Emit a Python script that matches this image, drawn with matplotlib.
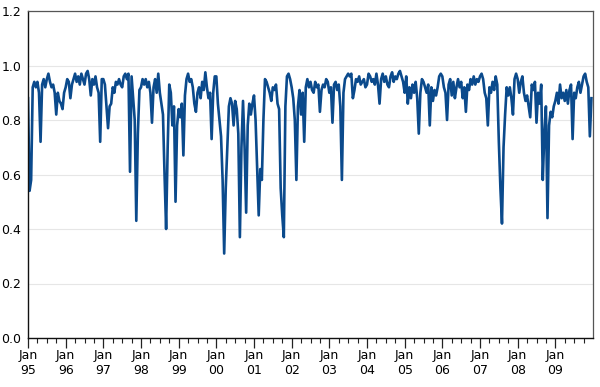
import numpy as np
import matplotlib
matplotlib.use("Agg")
import matplotlib.pyplot as plt
from matplotlib.ticker import FixedLocator, FormatStrFormatter

plt.rcParams['font.family'] = ['Liberation Sans Narrow', 'DejaVu Sans']

# Semi-monthly observations (24 per year), Jan 1995 - Dec 2009
v1995 = [0.88, 0.54, 0.58, 0.92, 0.94, 0.92, 0.94, 0.90, 0.72, 0.93, 0.95, 0.92,
         0.95, 0.97, 0.94, 0.92, 0.93, 0.90, 0.82, 0.90, 0.87, 0.86, 0.84, 0.90]
v1996 = [0.92, 0.95, 0.94, 0.88, 0.93, 0.95, 0.97, 0.94, 0.96, 0.93, 0.97, 0.95,
         0.93, 0.97, 0.98, 0.95, 0.89, 0.95, 0.93, 0.96, 0.92, 0.90, 0.72, 0.95]
v1997 = [0.95, 0.93, 0.85, 0.77, 0.85, 0.86, 0.92, 0.90, 0.94, 0.93, 0.95, 0.93,
         0.92, 0.96, 0.97, 0.95, 0.97, 0.61, 0.96, 0.88, 0.80, 0.43, 0.75, 0.91]
v1998 = [0.92, 0.95, 0.93, 0.95, 0.92, 0.94, 0.90, 0.79, 0.92, 0.95, 0.90, 0.97,
         0.90, 0.86, 0.82, 0.60, 0.40, 0.70, 0.93, 0.90, 0.78, 0.85, 0.50, 0.78]
v1999 = [0.84, 0.81, 0.86, 0.67, 0.89, 0.95, 0.97, 0.94, 0.95, 0.92, 0.86, 0.83,
         0.90, 0.92, 0.88, 0.94, 0.91, 0.975, 0.92, 0.88, 0.90, 0.73, 0.90, 0.96]
v2000 = [0.96, 0.86, 0.80, 0.74, 0.58, 0.31, 0.55, 0.70, 0.85, 0.88, 0.86, 0.78,
         0.87, 0.84, 0.75, 0.37, 0.70, 0.87, 0.70, 0.46, 0.78, 0.86, 0.82, 0.86]
v2001 = [0.89, 0.80, 0.62, 0.45, 0.62, 0.58, 0.80, 0.95, 0.94, 0.92, 0.90, 0.87,
         0.92, 0.91, 0.93, 0.86, 0.84, 0.55, 0.45, 0.37, 0.85, 0.96, 0.97, 0.95]
v2002 = [0.92, 0.88, 0.80, 0.58, 0.85, 0.91, 0.82, 0.90, 0.72, 0.92, 0.95, 0.92,
         0.94, 0.91, 0.90, 0.94, 0.92, 0.93, 0.83, 0.91, 0.93, 0.92, 0.95, 0.94]
v2003 = [0.90, 0.92, 0.79, 0.93, 0.94, 0.91, 0.93, 0.85, 0.58, 0.90, 0.95, 0.96,
         0.97, 0.96, 0.97, 0.88, 0.91, 0.95, 0.94, 0.96, 0.93, 0.94, 0.95, 0.92]
v2004 = [0.93, 0.97, 0.96, 0.94, 0.95, 0.93, 0.97, 0.93, 0.86, 0.95, 0.97, 0.94,
         0.96, 0.93, 0.92, 0.96, 0.975, 0.94, 0.96, 0.95, 0.97, 0.98, 0.96, 0.94]
v2005 = [0.90, 0.96, 0.86, 0.92, 0.88, 0.93, 0.90, 0.94, 0.88, 0.75, 0.90, 0.95,
         0.94, 0.92, 0.90, 0.93, 0.78, 0.92, 0.87, 0.91, 0.89, 0.92, 0.96, 0.97]
v2006 = [0.96, 0.92, 0.90, 0.80, 0.93, 0.95, 0.89, 0.94, 0.88, 0.92, 0.95, 0.92,
         0.94, 0.88, 0.92, 0.83, 0.93, 0.91, 0.95, 0.93, 0.96, 0.93, 0.95, 0.94]
v2007 = [0.96, 0.97, 0.95, 0.90, 0.88, 0.78, 0.92, 0.90, 0.94, 0.91, 0.96, 0.93,
         0.72, 0.55, 0.42, 0.70, 0.82, 0.92, 0.89, 0.92, 0.88, 0.82, 0.95, 0.97]
v2008 = [0.95, 0.90, 0.94, 0.96, 0.90, 0.87, 0.89, 0.85, 0.81, 0.93, 0.91, 0.94,
         0.79, 0.90, 0.86, 0.93, 0.58, 0.75, 0.85, 0.44, 0.78, 0.83, 0.81, 0.85]
v2009 = [0.87, 0.90, 0.86, 0.93, 0.88, 0.90, 0.87, 0.91, 0.86, 0.91, 0.93, 0.73,
         0.90, 0.88, 0.92, 0.94, 0.90, 0.93, 0.96, 0.97, 0.94, 0.92, 0.74, 0.88]

years = list(range(1995, 2010))
year_labels = ["Jan\n%02d" % (y % 100) for y in years]
y_ticks = [0.0, 0.2, 0.4, 0.6, 0.8, 1.0, 1.2]

series = [v1995, v1996, v1997, v1998, v1999, v2000, v2001, v2002,
          v2003, v2004, v2005, v2006, v2007, v2008, v2009]
values = np.concatenate([np.array(s, dtype=float) for s in series])
t = np.array([y + i / 24.0 for y, s in zip(years, series) for i in range(len(s))])

fig = plt.figure(figsize=(6.0, 3.87), dpi=100)
ax = fig.add_axes([28 / 600, 1 - 338 / 387, (593 - 28) / 600, (338 - 11) / 387])

ax.plot(t, values, color="#0b4a8c", lw=1.9, solid_joinstyle="round")

ax.set_xlim(1995, 2010)
ax.set_ylim(0, 1.2)
ax.yaxis.set_major_locator(FixedLocator(y_ticks))
ax.yaxis.set_major_formatter(FormatStrFormatter("%.1f"))
ax.grid(axis="y", color="#e6e6e6", lw=0.8)
ax.set_axisbelow(True)

ax.set_xticks(years)
ax.set_xticklabels(year_labels, linespacing=1.15)
ax.set_xticks([y + q for y in years for q in (0.25, 0.5, 0.75)], minor=True)
ax.tick_params(axis="x", which="major", length=7, width=0.9, color="#222222",
               labelsize=9, pad=1)
ax.tick_params(axis="x", which="minor", length=3.5, width=0.8, color="#222222")
ax.tick_params(axis="y", length=0, labelsize=9, pad=5)

for side in ("left", "bottom"):
    ax.spines[side].set_color("#111111")
    ax.spines[side].set_linewidth(1.0)
for side in ("top", "right"):
    ax.spines[side].set_color("#555555")
    ax.spines[side].set_linewidth(0.9)

fig.savefig("out.png", dpi=100)
